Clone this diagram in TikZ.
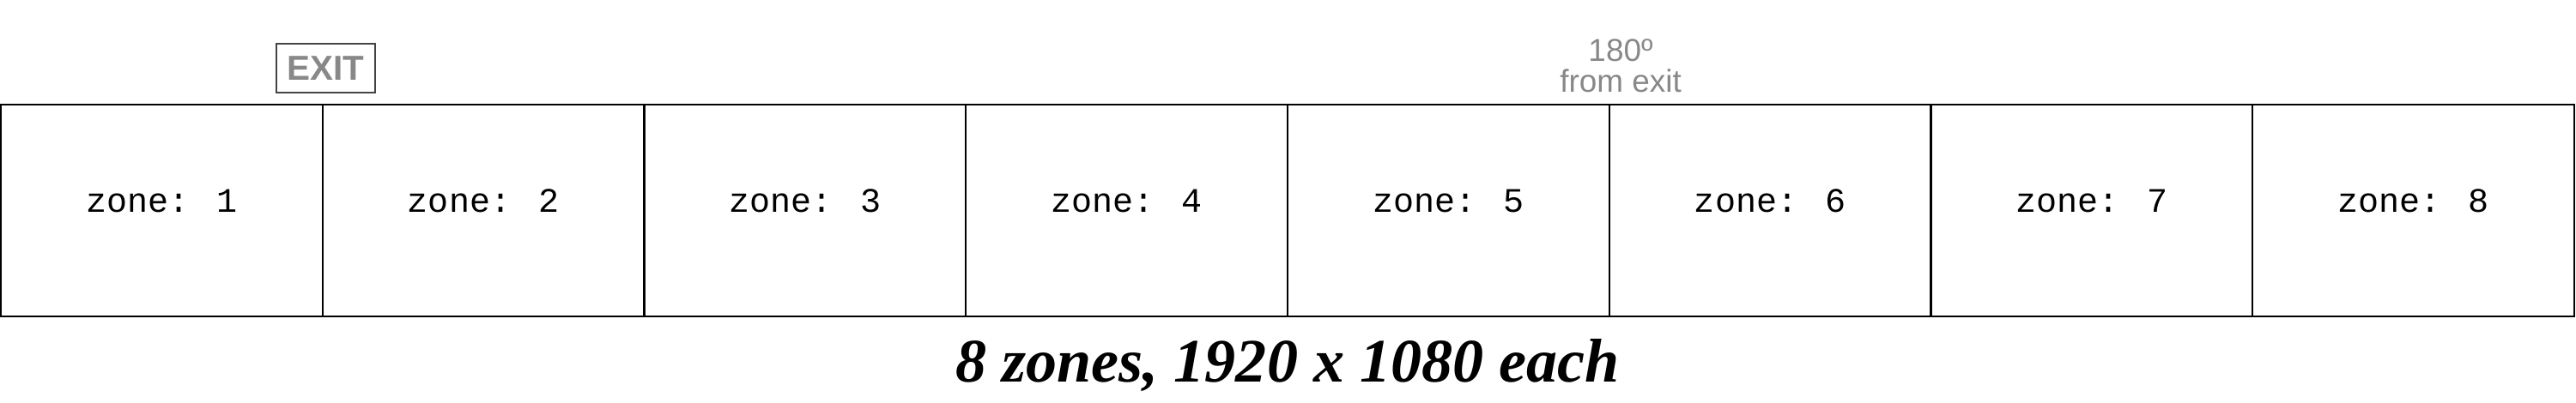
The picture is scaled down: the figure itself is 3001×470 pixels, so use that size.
\documentclass[tikz,border=0pt]{standalone}
\usepackage{fontspec}
\newfontfamily\zonefont{Liberation Mono}
\newfontfamily\signfont{Liberation Sans}
\newfontfamily\captionfont{Liberation Serif}
\definecolor{signgray}{HTML}{888888}
\definecolor{signframe}{HTML}{444444}

\begin{document}
\begin{tikzpicture}[x=0.01cm,y=-0.01cm,
    zonebox/.style={draw,line width=0.6pt,minimum width=3.7475cm,minimum height=2.47cm,inner sep=0pt,
        text depth=6.5pt,font=\zonefont\fontsize{11.4}{13}\selectfont},
    ]
    \useasboundingbox (0,0) rectangle (3001,470);

    % zones
    \foreach \n in {1,...,8}
        \node[zonebox] (z\n) at ({1+374.75*(\n-0.5)},245.5) {zone: \n};

    % exit sign
    \node[draw=signframe,line width=0.8pt,minimum width=1.15cm,minimum height=0.57cm,inner sep=0pt,
        text=signgray,font=\signfont\bfseries\fontsize{11.5}{13}\selectfont] (exit) at (379.5,79.5) {EXIT};

    % opposite side of the room
    \node[text=signgray,align=center,inner sep=0pt,anchor=base,
        font=\signfont\fontsize{10.5}{10.4}\selectfont] (opp) at (1888,108) {180º\\from exit};

    % caption
    \node[inner sep=0pt,anchor=base,font=\captionfont\bfseries\itshape\fontsize{20.5}{24}\selectfont]
        (caption) at (1500,445) {8 zones, 1920 x 1080 each};
\end{tikzpicture}
\end{document}
